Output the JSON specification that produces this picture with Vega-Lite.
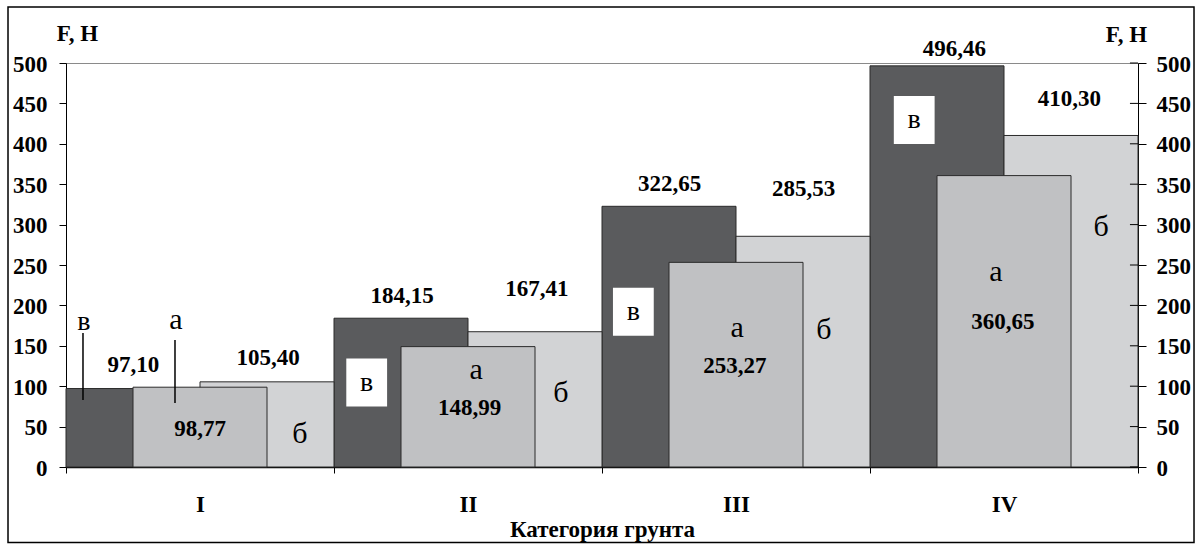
{
  "$schema": "https://vega.github.io/schema/vega-lite/v6.json",
  "width": 1072,
  "height": 404,
  "autosize": {"type": "none"},
  "padding": {"left": 66, "top": 63, "right": 60, "bottom": 77},
  "background": "white",
  "config": {
    "view": {"stroke": "#8a8a8a", "strokeWidth": 1},
    "font": "Liberation Serif"
  },
  "datasets": {
    "bars": [
      {"cat": "I", "k": 0, "s": "в", "F": 97.10},
      {"cat": "II", "k": 1, "s": "в", "F": 184.15},
      {"cat": "III", "k": 2, "s": "в", "F": 322.65},
      {"cat": "IV", "k": 3, "s": "в", "F": 496.46},
      {"cat": "I", "k": 0, "s": "б", "F": 105.40},
      {"cat": "II", "k": 1, "s": "б", "F": 167.41},
      {"cat": "III", "k": 2, "s": "б", "F": 285.53},
      {"cat": "IV", "k": 3, "s": "б", "F": 410.30},
      {"cat": "I", "k": 0, "s": "а", "F": 98.77},
      {"cat": "II", "k": 1, "s": "а", "F": 148.99},
      {"cat": "III", "k": 2, "s": "а", "F": 253.27},
      {"cat": "IV", "k": 3, "s": "а", "F": 360.65}
    ],
    "labels": [
      {"kind": "value", "cat": "I", "text": "97,10", "pos": 0.251, "F": 126.5},
      {"kind": "value", "cat": "I", "text": "105,40", "pos": 0.754, "F": 134.5},
      {"kind": "value", "cat": "I", "text": "98,77", "pos": 0.5, "F": 47.3},
      {"kind": "value", "cat": "II", "text": "184,15", "pos": 1.254, "F": 211.9},
      {"kind": "value", "cat": "II", "text": "167,41", "pos": 1.757, "F": 220.5},
      {"kind": "value", "cat": "II", "text": "148,99", "pos": 1.506, "F": 73.3},
      {"kind": "value", "cat": "III", "text": "322,65", "pos": 2.252, "F": 349.9},
      {"kind": "value", "cat": "III", "text": "285,53", "pos": 2.752, "F": 343.7},
      {"kind": "value", "cat": "III", "text": "253,27", "pos": 2.496, "F": 125.2},
      {"kind": "value", "cat": "IV", "text": "496,46", "pos": 3.315, "F": 517.6},
      {"kind": "value", "cat": "IV", "text": "410,30", "pos": 3.744, "F": 455.0},
      {"kind": "value", "cat": "IV", "text": "360,65", "pos": 3.496, "F": 179.0},
      {"kind": "в", "cat": "I", "text": "в", "pos": 0.067, "F": 179.0},
      {"kind": "а", "cat": "I", "text": "а", "pos": 0.410, "F": 181.9},
      {"kind": "б", "cat": "I", "text": "б", "pos": 0.873, "F": 41.2},
      {"kind": "в", "cat": "II", "text": "в", "pos": 1.122, "F": 104.5},
      {"kind": "а", "cat": "II", "text": "а", "pos": 1.530, "F": 120.0},
      {"kind": "б", "cat": "II", "text": "б", "pos": 1.847, "F": 92.0},
      {"kind": "в", "cat": "III", "text": "в", "pos": 2.117, "F": 192.0},
      {"kind": "а", "cat": "III", "text": "а", "pos": 2.504, "F": 172.0},
      {"kind": "б", "cat": "III", "text": "б", "pos": 2.828, "F": 169.9},
      {"kind": "в", "cat": "IV", "text": "в", "pos": 3.165, "F": 429.5},
      {"kind": "а", "cat": "IV", "text": "а", "pos": 3.470, "F": 241.3},
      {"kind": "б", "cat": "IV", "text": "б", "pos": 3.862, "F": 297.4}
    ],
    "leaders": [
      {"s": "в", "pos": 0.0634, "F": 165.8, "F2": 82.9},
      {"s": "а", "pos": 0.4067, "F": 157.2, "F2": 79.2}
    ],
    "ticks": [
      {"F": 0}, {"F": 50}, {"F": 100}, {"F": 150}, {"F": 200}, {"F": 250},
      {"F": 300}, {"F": 350}, {"F": 400}, {"F": 450}, {"F": 500}
    ]
  },
  "resolve": {"axis": {"y": "independent"}},
  "layer": [
    {
      "data": {"name": "bars"},
      "transform": [
        {"calculate": "datum.k + (datum.s === 'в' ? 0 : (datum.s === 'а' ? 0.25 : 0.5))", "as": "x0"},
        {"calculate": "datum.x0 + 0.5", "as": "x1"}
      ],
      "mark": {"type": "rect", "stroke": "#2a2a2a", "strokeWidth": 1},
      "encoding": {
        "x": {
          "field": "x0",
          "type": "quantitative",
          "scale": {"domain": [0, 4], "nice": false, "zero": false},
          "axis": {
            "orient": "bottom",
            "values": [0, 1, 2, 3, 4],
            "labelExpr": "datum.value == 0 ? 'I' : datum.value == 1 ? 'II' : datum.value == 2 ? 'III' : datum.value == 3 ? 'IV' : ''",
            "labelOffset": 134,
            "grid": false,
            "domainColor": "black",
            "domainWidth": 1.5,
            "tickColor": "black",
            "tickSize": 6,
            "labelPadding": 20,
            "labelFlush": false,
            "labelOverlap": false,
            "labelBound": false,
            "labelFont": "Liberation Serif",
            "labelFontWeight": "bold",
            "labelFontSize": 23,
            "labelColor": "black",
            "title": "Категория грунта",
            "titleFont": "Liberation Serif",
            "titleFontWeight": "bold",
            "titleFontSize": 23,
            "titleColor": "black",
            "titleBaseline": "alphabetic",
            "titleY": 69
          }
        },
        "x2": {"field": "x1"},
        "y": {
          "field": "F",
          "type": "quantitative",
          "scale": {"domain": [0, 500], "nice": false},
          "axis": {
            "orient": "left",
            "values": [0, 50, 100, 150, 200, 250, 300, 350, 400, 450, 500],
            "grid": false,
            "domainColor": "black",
            "tickColor": "black",
            "tickSize": 7,
            "labelPadding": 12,
            "labelOffset": 1,
            "labelFont": "Liberation Serif",
            "labelFontWeight": "bold",
            "labelFontSize": 23,
            "labelColor": "black",
            "title": "F, H",
            "titleAngle": 0,
            "titleX": 11,
            "titleY": -23,
            "titleAlign": "center",
            "titleBaseline": "alphabetic",
            "titleFont": "Liberation Serif",
            "titleFontWeight": "bold",
            "titleFontSize": 23,
            "titleColor": "black"
          }
        },
        "y2": {"datum": 0},
        "color": {
          "field": "s",
          "type": "nominal",
          "scale": {"domain": ["в", "а", "б"], "range": ["#5a5b5d", "#c0c1c3", "#d2d3d5"]},
          "legend": null
        }
      }
    },
    {
      "data": {"values": [{}]},
      "mark": {"type": "rect", "fillOpacity": 0, "stroke": "black", "strokeWidth": 1.5},
      "encoding": {
        "x": {"datum": -0.2164, "type": "quantitative"},
        "x2": {"datum": 4.209},
        "y": {"datum": 569.3, "type": "quantitative", "axis": null},
        "y2": {"datum": -93.4}
      }
    },
    {
      "data": {"name": "leaders"},
      "mark": {"type": "rule", "stroke": "black", "strokeWidth": 1.5},
      "encoding": {
        "x": {"field": "pos", "type": "quantitative"},
        "y": {"field": "F", "type": "quantitative", "axis": null},
        "y2": {"field": "F2"}
      }
    },
    {
      "data": {"name": "labels"},
      "transform": [{"filter": "datum.kind === 'в' && datum.cat !== 'I'"}],
      "mark": {"type": "point", "shape": "M-0.85,-1H0.85V1H-0.85Z", "filled": true, "fill": "white", "opacity": 1, "strokeWidth": 0, "size": 2304},
      "encoding": {
        "x": {"field": "pos", "type": "quantitative"},
        "y": {"field": "F", "type": "quantitative", "axis": null}
      }
    },
    {
      "data": {"name": "labels"},
      "transform": [{"filter": "datum.kind === 'value'"}],
      "mark": {"type": "text", "font": "Liberation Serif", "fontWeight": "bold", "fontSize": 23, "color": "black", "align": "center", "baseline": "middle"},
      "encoding": {
        "x": {"field": "pos", "type": "quantitative"},
        "y": {"field": "F", "type": "quantitative", "axis": null},
        "text": {"field": "text"}
      }
    },
    {
      "data": {"name": "labels"},
      "transform": [{"filter": "datum.kind === 'а' || datum.kind === 'б'"}],
      "mark": {"type": "text", "font": "Liberation Serif", "fontSize": 30, "color": "black", "align": "center", "baseline": "middle"},
      "encoding": {
        "x": {"field": "pos", "type": "quantitative"},
        "y": {"field": "F", "type": "quantitative", "axis": null},
        "text": {"field": "text"}
      }
    },
    {
      "data": {"name": "labels"},
      "transform": [{"filter": "datum.kind === 'в'"}],
      "mark": {"type": "text", "font": "Liberation Serif", "fontSize": 28, "color": "black", "align": "center", "baseline": "middle"},
      "encoding": {
        "x": {"field": "pos", "type": "quantitative"},
        "y": {"field": "F", "type": "quantitative", "axis": null},
        "text": {"field": "text"}
      }
    },
    {
      "data": {"name": "ticks"},
      "mark": {"type": "rule", "stroke": "black", "strokeWidth": 1},
      "encoding": {
        "x": {"datum": 3.97, "type": "quantitative"},
        "x2": {"datum": 4},
        "y": {
          "field": "F",
          "type": "quantitative",
          "scale": {"domain": [0, 500], "nice": false},
          "axis": {
            "orient": "right",
            "values": [0, 50, 100, 150, 200, 250, 300, 350, 400, 450, 500],
            "grid": false,
            "domainColor": "black",
            "tickColor": "black",
            "tickSize": 8,
            "labelPadding": 10,
            "labelOffset": 1,
            "labelFont": "Liberation Serif",
            "labelFontWeight": "bold",
            "labelFontSize": 23,
            "labelColor": "black",
            "title": "F, H",
            "titleAngle": 0,
            "titleX": -12,
            "titleY": -22,
            "titleAlign": "center",
            "titleBaseline": "alphabetic",
            "titleFont": "Liberation Serif",
            "titleFontWeight": "bold",
            "titleFontSize": 23,
            "titleColor": "black"
          }
        }
      }
    }
  ]
}
